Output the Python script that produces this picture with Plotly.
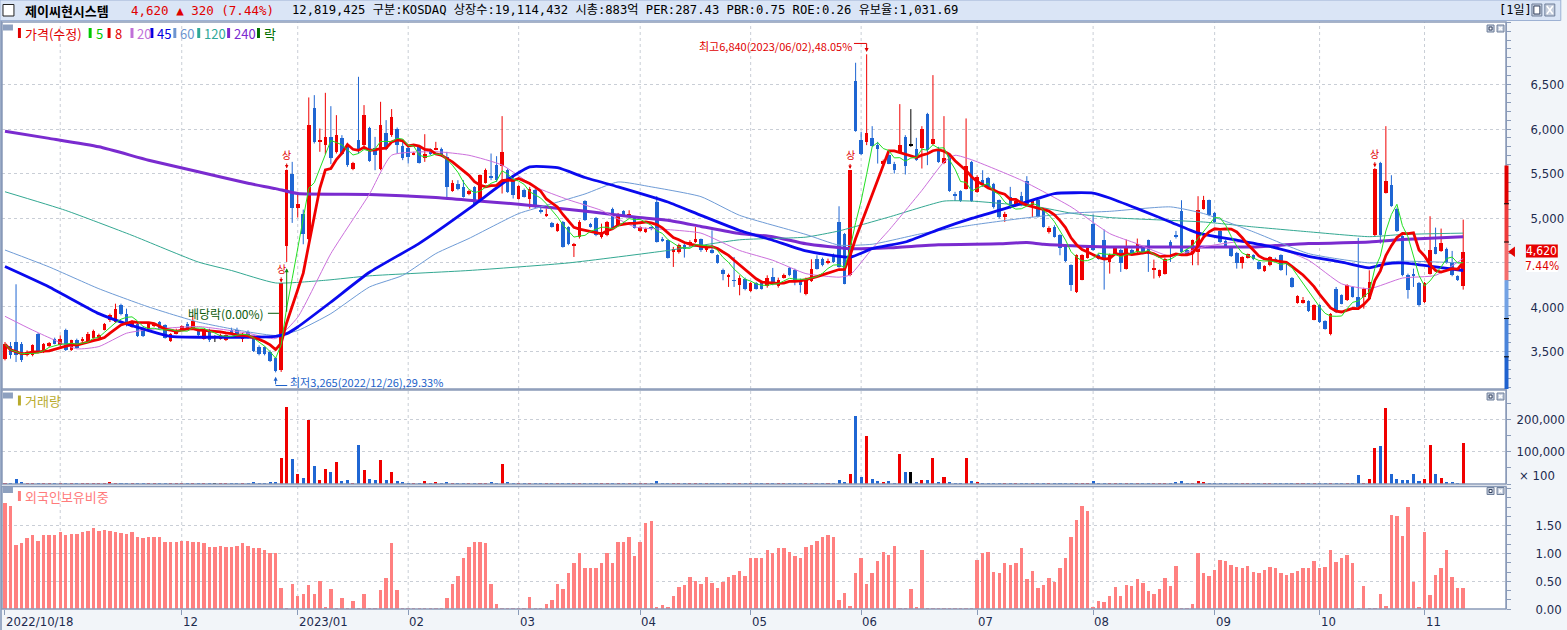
import pandas as pd
import plotly.graph_objects as go

# trading days (KRX holidays removed)
holidays = ["2022-12-30", "2023-01-23", "2023-01-24", "2023-03-01", "2023-05-01",
            "2023-05-05", "2023-05-29", "2023-06-06", "2023-08-15", "2023-09-28",
            "2023-09-29", "2023-10-02", "2023-10-03", "2023-10-09"]
dates = pd.bdate_range("2022-10-18", "2023-11-10", freq="C",
                       holidays=holidays).strftime("%Y-%m-%d").tolist()

tick_dates = ["2022-10-18", "2022-12-01", "2023-01-02", "2023-02-01", "2023-03-02",
              "2023-04-03", "2023-05-02", "2023-06-01", "2023-07-03", "2023-08-01",
              "2023-09-01", "2023-10-04", "2023-11-01"]
tick_labels = ["2022/10/18", "12", "2023/01", "02", "03", "04", "05", "06", "07",
               "08", "09", "10", "11"]
grid_dates = ["2022-11-01"] + tick_dates[1:]

# price labels shown on the axis; 4,500 sits under the current-price tag
price_ticks = [3500, 4000, 5000, 5500, 6000, 6500]
price_grid = [3500, 4000, 4500, 5000, 5500, 6000, 6500]

opens = [
    3419, 3557, 3606, 3587, 3464, 3456, 3692, 3494, 3557, 3644,
    3569, 3745, 3512, 3625, 3614, 3614, 3655, 3651, 3745, 3850,
    3831, 4026, 3925, 3775, 3812, 3767, 3726, 3782, 3831, 3794,
    3617, 3700, 3737, 3812, 3767, 3737, 3644, 3745, 3655, 3644,
    3625, 3745, 3745, 3644, 3719, 3651, 3550, 3550, 3494, 3426,
    3290, 4683, 5500, 5117, 5050, 4769, 6231, 5856, 5819, 5912,
    5744, 5901, 5800, 5556, 5882, 5819, 6017, 5792, 5556, 5950,
    5931, 6006, 5807, 5792, 5717, 5800, 5669, 5770, 5770, 5781,
    5687, 5305, 5380, 5350, 5267, 5350, 5200, 5395, 5470, 5594,
    5582, 5545, 5444, 5219, 5312, 5219, 5312, 5095, 5024, 4945,
    4855, 4956, 4900, 4694, 4787, 5192, 4937, 5001, 4787, 4806,
    5106, 4919, 5076, 5024, 5012, 4855, 4844, 4900, 5181, 4765,
    4750, 4619, 4619, 4694, 4694, 4731, 4761, 4637, 4637, 4581,
    4412, 4337, 4300, 4244, 4319, 4180, 4270, 4281, 4232, 4337,
    4232, 4330, 4439, 4412, 4300, 4150, 4292, 4536, 4536, 4495,
    4581, 4956, 4825, 4356, 6539, 5875, 5856, 5901, 5819, 5612,
    5706, 5612, 5744, 5905, 5819, 5781, 5792, 6167, 5830, 5781,
    5620, 5706, 5267, 5301, 5331, 5631, 5294, 5432, 5451, 5380,
    5200, 5012, 5237, 5144, 5249, 5414, 5144, 5207, 5087, 4844,
    4900, 4806, 4694, 4469, 4169, 4307, 4555, 4930, 4589, 4750,
    4506, 4592, 4645, 4431, 4645, 4619, 4667, 4750, 4420, 4345,
    4375, 4731, 4806, 5080, 4645, 4600, 4619, 5106, 5200, 5057,
    4851, 4742, 4675, 4611, 4495, 4555, 4581, 4506, 4405, 4469,
    4544, 4581, 4495, 4330, 4045, 4045, 4067, 3857, 4019, 3839,
    3700, 4206, 4131, 4075, 4225, 4112, 4112, 4094, 4806, 5620,
    5282, 5369, 5106, 4795, 4364, 4364, 4270, 4056, 4375, 4675,
    4630, 4656, 4506, 4345, 4232,
]
highs = [
    3606, 3606, 4255, 3606, 3512, 3580, 3707, 3595, 3606, 3655,
    3681, 3756, 3632, 3644, 3662, 3719, 3745, 3700, 3820, 3925,
    4037, 4037, 3981, 3850, 3831, 3782, 3820, 3820, 3842, 3805,
    3707, 3756, 3794, 3831, 3906, 3756, 3745, 3756, 3681, 3700,
    3692, 3767, 3767, 3707, 3737, 3662, 3569, 3557, 3512, 3437,
    4265, 5545, 5631, 5294, 5095, 6355, 6381, 6006, 6407, 6257,
    6156, 5931, 5845, 5631, 6587, 6269, 6025, 5912, 6306, 6100,
    6224, 6017, 5882, 5800, 5744, 5807, 5942, 5781, 5856, 5792,
    5744, 5425, 5425, 5425, 5320, 5357, 5489, 5556, 5725, 5695,
    6145, 5556, 5481, 5369, 5331, 5350, 5331, 5125, 5106, 4956,
    4945, 4967, 4907, 4720, 4975, 5200, 4945, 5012, 4937, 4967,
    5117, 5057, 5087, 5087, 5020, 4907, 4892, 4907, 5245, 4787,
    4757, 4675, 4712, 4712, 4750, 4900, 4769, 4694, 4862, 4592,
    4431, 4375, 4562, 4356, 4330, 4281, 4281, 4292, 4356, 4439,
    4330, 4375, 4450, 4431, 4319, 4330, 4536, 4581, 4555, 4544,
    4600, 5132, 4832, 5540, 6745, 5969, 6840, 6032, 5856, 5657,
    5744, 5631, 6280, 5931, 6224, 5901, 6032, 6182, 6606, 5800,
    6145, 5717, 5294, 5312, 6119, 5642, 5481, 5537, 5462, 5395,
    5207, 5069, 5350, 5200, 5294, 5470, 5207, 5219, 5095, 4907,
    4919, 4817, 4705, 4480, 4592, 4592, 4694, 5039, 4600, 4870,
    4600, 4682, 4656, 4757, 4656, 4769, 4682, 4757, 4532, 4420,
    4555, 4750, 4855, 5200, 4656, 4757, 5245, 5249, 5207, 5069,
    4862, 4757, 4686, 4619, 4570, 4600, 4592, 4517, 4469, 4570,
    4555, 4592, 4506, 4337, 4131, 4112, 4075, 4030, 4030, 3850,
    3932, 4225, 4142, 4255, 4232, 4776, 4217, 4412, 5560, 5631,
    6032, 5481, 5117, 4806, 4375, 4431, 4281, 4281, 5020, 4892,
    4881, 4667, 4630, 4356, 4982,
]
lows = [
    3400, 3419, 3381, 3381, 3445, 3445, 3482, 3482, 3550, 3580,
    3557, 3505, 3505, 3531, 3606, 3606, 3644, 3644, 3737, 3831,
    3820, 3906, 3782, 3767, 3662, 3662, 3719, 3775, 3745, 3644,
    3606, 3692, 3730, 3756, 3756, 3670, 3632, 3606, 3606, 3632,
    3617, 3692, 3681, 3606, 3644, 3494, 3456, 3456, 3381, 3265,
    3270, 4506, 4945, 5005, 4705, 4750, 5837, 5744, 5717, 5605,
    5725, 5706, 5575, 5537, 5725, 5800, 5631, 5537, 5537, 5762,
    5912, 5725, 5650, 5612, 5706, 5612, 5631, 5706, 5762, 5687,
    5207, 5294, 5312, 5230, 5256, 5151, 5181, 5387, 5425, 5406,
    5275, 5282, 5219, 5207, 5230, 5106, 5106, 5050, 5012, 4892,
    4844, 4667, 4694, 4562, 4769, 4967, 4892, 4795, 4769, 4795,
    4870, 4907, 5020, 5012, 4881, 4844, 4832, 4862, 4724, 4731,
    4544, 4450, 4600, 4555, 4675, 4720, 4619, 4619, 4600, 4487,
    4300, 4225, 4225, 4131, 4187, 4169, 4195, 4195, 4217, 4244,
    4217, 4319, 4345, 4244, 4161, 4131, 4281, 4420, 4457, 4480,
    4495, 4442, 4255, 4345, 5969, 5706, 5819, 5800, 5612, 5594,
    5605, 5500, 5725, 5489, 5800, 5642, 5556, 5594, 5819, 5620,
    5605, 5294, 5192, 5181, 5320, 5181, 5282, 5350, 5331, 5106,
    4994, 4956, 5106, 5125, 5132, 5155, 5012, 5005, 4892, 4825,
    4780, 4581, 4506, 4180, 4157, 4300, 4544, 4630, 4532, 4195,
    4375, 4581, 4394, 4420, 4581, 4607, 4592, 4394, 4319, 4330,
    4364, 4506, 4769, 4607, 4592, 4469, 4469, 5095, 5020, 4945,
    4720, 4667, 4562, 4431, 4431, 4544, 4525, 4420, 4394, 4457,
    4506, 4405, 4356, 4217, 4037, 4037, 3944, 3850, 3820, 3745,
    3681, 3932, 4030, 4067, 4105, 3992, 3981, 4082, 4795, 4712,
    5275, 5125, 4844, 4345, 4094, 4225, 4007, 4045, 4364, 4592,
    4619, 4487, 4345, 4292, 4195,
]
closes = [
    3580, 3456, 3456, 3407, 3494, 3569, 3494, 3580, 3595, 3587,
    3644, 3512, 3625, 3542, 3644, 3700, 3726, 3689, 3812, 3906,
    3981, 3925, 3794, 3839, 3674, 3670, 3812, 3812, 3756, 3655,
    3700, 3737, 3782, 3767, 3839, 3681, 3737, 3625, 3655, 3681,
    3681, 3700, 3700, 3700, 3651, 3505, 3467, 3475, 3392, 3280,
    4265, 5545, 5114, 5155, 4817, 6044, 5856, 5875, 5912, 5669,
    5931, 5725, 5594, 5620, 5755, 6156, 5642, 5706, 6044, 5770,
    6137, 5819, 5669, 5687, 5732, 5620, 5725, 5725, 5792, 5706,
    5350, 5395, 5324, 5237, 5305, 5162, 5481, 5545, 5459, 5425,
    5744, 5294, 5256, 5357, 5237, 5331, 5125, 5069, 5042, 4900,
    4937, 4675, 4705, 4712, 4956, 4975, 4900, 4806, 4844, 4956,
    4881, 5050, 5031, 5050, 4892, 4900, 4881, 4874, 4731, 4750,
    4555, 4656, 4694, 4656, 4731, 4769, 4637, 4667, 4611, 4495,
    4375, 4356, 4292, 4330, 4206, 4270, 4206, 4206, 4330, 4262,
    4307, 4356, 4356, 4281, 4244, 4319, 4431, 4431, 4469, 4517,
    4506, 4450, 4262, 5540, 5980, 5725, 5950, 5807, 5781, 5642,
    5612, 5537, 5819, 5582, 5819, 5650, 5995, 5762, 5886, 5631,
    5676, 5305, 5249, 5189, 5582, 5189, 5462, 5369, 5350, 5125,
    5012, 5050, 5125, 5189, 5144, 5162, 5200, 5012, 4900, 4892,
    4787, 4667, 4517, 4244, 4581, 4581, 4682, 4637, 4544, 4525,
    4581, 4667, 4495, 4667, 4600, 4705, 4607, 4600, 4442, 4412,
    4544, 4682, 4787, 4619, 4600, 4750, 5087, 5200, 5031, 4956,
    4731, 4675, 4570, 4495, 4562, 4592, 4536, 4431, 4461, 4562,
    4525, 4412, 4487, 4225, 4120, 4082, 3955, 4019, 3831, 3756,
    3925, 3944, 4037, 4244, 4112, 4000, 4206, 4281, 5556, 4814,
    5414, 5132, 4855, 4356, 4187, 4352, 4019, 4270, 4637, 4600,
    4720, 4495, 4356, 4300, 4620,
]
# volume, in units of 100 shares
volume = [
    3000, 2800, 16700, 3400, 2900, 3100, 2800, 3000, 2900, 3100,
    2800, 3000, 3100, 2900, 3000, 2800, 3100, 2900, 3000, 3200,
    3100, 2900, 3000, 2800, 3100, 2900, 3000, 3100, 2800, 3000,
    2900, 3100, 3000, 2800, 3000, 3100, 2900, 3000, 2800, 3100,
    2900, 3000, 3100, 2900, 3000, 3200, 3100, 3000, 3300, 3400,
    81800, 239300, 76500, 31400, 18800, 199400, 56600, 12500, 47100, 37700,
    69200, 9300, 12500, 3000, 122700, 44000, 15600, 12500, 75500, 12500,
    37700, 9300, 6200, 3000, 3100, 2900, 9300, 3000, 6200, 3100,
    6200, 3000, 2900, 3100, 3000, 2900, 3100, 3000, 6200, 3000,
    62900, 6200, 3100, 2900, 3000, 3100, 2800, 3000, 2900, 3100,
    3000, 2900, 3100, 3000, 2800, 3100, 2900, 3000, 3100, 2900,
    3000, 2800, 3100, 2900, 3000, 3100, 2900, 3000, 9300, 3100,
    2900, 3000, 3100, 2800, 3000, 2900, 3100, 3000, 2900, 3100,
    3000, 2800, 3100, 2900, 3000, 3100, 2900, 3000, 2800, 3100,
    2900, 3000, 3100, 2900, 3000, 3100, 2800, 3000, 2900, 3100,
    3000, 12500, 6200, 31400, 210900, 21900, 148000, 15600, 9300, 6200,
    9300, 3000, 94400, 37700, 37700, 6200, 12500, 12500, 81800, 6200,
    21900, 6200, 3000, 3000, 81800, 9300, 6200, 3100, 2900, 3000,
    3100, 2800, 3000, 2900, 3100, 3000, 2900, 3100, 3000, 2800,
    3100, 2900, 3000, 3100, 2900, 3000, 3100, 9300, 2900, 3000,
    3100, 2800, 3000, 2900, 3100, 3000, 2900, 3100, 3000, 2800,
    3100, 3000, 6200, 9300, 3000, 3000, 9300, 6200, 3100, 2900,
    3000, 3100, 2800, 3000, 2900, 3100, 3000, 2900, 3100, 3000,
    2800, 3100, 2900, 3000, 3100, 2900, 3000, 3100, 2800, 3000,
    2900, 3100, 3000, 2900, 3100, 27200, 3000, 15600, 113300, 119600,
    236200, 31400, 15600, 12500, 12500, 31400, 9300, 15600, 122700, 31400,
    18800, 6200, 6200, 3000, 125900,
]
# foreign ownership ratio (%)
foreign = [
    1.91, 1.86, 1.16, 1.19, 1.28, 1.35, 1.24, 1.34, 1.34, 1.34,
    1.40, 1.34, 1.36, 1.36, 1.39, 1.42, 1.46, 1.42, 1.44, 1.42,
    1.40, 1.37, 1.36, 1.39, 1.30, 1.28, 1.30, 1.31, 1.30, 1.22,
    1.22, 1.22, 1.24, 1.24, 1.22, 1.21, 1.19, 1.12, 1.13, 1.15,
    1.13, 1.13, 1.15, 1.19, 1.15, 1.10, 1.10, 1.08, 1.02, 1.02,
    0.39, 0.01, 0.46, 0.25, 0.28, 0.45, 0.28, 0.52, 0.05, 0.37,
    0.01, 0.21, 0.01, 0.16, 0.01, 0.28, 0.01, 0.01, 0.36, 0.57,
    1.19, 0.36, 0.01, 0.01, 0.03, 0.01, 0.01, 0.01, 0.01, 0.01,
    0.21, 0.46, 0.61, 0.92, 1.13, 1.22, 1.22, 1.19, 0.46, 0.10,
    0.01, 0.01, 0.01, 0.01, 0.01, 0.23, 0.01, 0.03, 0.10, 0.18,
    0.46, 0.37, 0.65, 0.83, 1.01, 0.74, 0.75, 0.74, 0.83, 1.02,
    0.83, 1.21, 1.21, 1.30, 0.97, 1.21, 1.55, 1.60, 0.05, 0.08,
    0.05, 0.25, 0.41, 0.45, 0.59, 0.52, 0.46, 0.59, 0.48, 0.39,
    0.50, 0.59, 0.63, 0.70, 0.61, 0.92, 0.93, 0.92, 1.08, 1.02,
    1.10, 1.11, 1.04, 0.97, 0.93, 1.13, 1.17, 1.24, 1.31, 1.35,
    1.30, 0.18, 0.30, 0.07, 0.66, 0.93, 0.46, 0.65, 0.88, 1.04,
    0.99, 1.15, 0.01, 0.01, 0.37, 0.05, 1.08, 0.01, 0.01, 0.01,
    0.01, 0.01, 0.01, 0.01, 0.01, 0.01, 0.90, 1.01, 1.04, 0.68,
    0.66, 0.84, 0.81, 0.84, 1.11, 0.55, 0.70, 0.39, 0.45, 0.57,
    0.50, 0.74, 0.93, 1.31, 1.62, 1.87, 1.77, 0.05, 0.16, 0.14,
    0.25, 0.41, 0.25, 0.45, 0.43, 0.55, 0.48, 0.34, 0.28, 0.37,
    0.57, 0.43, 0.79, 0.01, 0.01, 0.10, 1.02, 0.65, 0.61, 0.72,
    0.90, 0.88, 0.81, 0.77, 0.75, 0.79, 0.68, 0.66, 0.72, 0.77,
    0.74, 0.66, 0.63, 0.66, 0.70, 0.75, 0.75, 0.88, 0.74, 0.77,
    1.08, 0.86, 0.92, 0.99, 0.84, 0.01, 0.43, 0.01, 0.01, 0.28,
    0.07, 1.71, 1.68, 1.33, 1.84, 0.50, 0.05, 1.40, 0.27, 0.63,
    0.75, 1.08, 0.59, 0.39, 0.39,
]

# longer moving averages (bar index, value)
ma20_at = [0, 5, 13, 17, 22, 26, 35, 44, 49, 53, 59, 66, 70, 78, 84, 90, 96, 102, 108,
           114, 120, 126, 133, 139, 145, 151, 153, 157, 160, 166, 170, 172, 175, 184,
           193, 200, 205, 211, 217, 223, 229, 236, 242, 247, 253, 259, 264]
ma20 = [3895, 3740, 3530, 3555, 3705, 3745, 3780, 3705, 3645, 3885, 4600, 5270, 5705,
        5745, 5705, 5595, 5350, 5205, 5085, 4900, 4870, 4830, 4635, 4525, 4375, 4335,
        4360, 4655, 4860, 5310, 5630, 5705, 5655, 5425, 5125, 4825, 4710, 4570, 4675,
        4730, 4695, 4525, 4260, 4205, 4325, 4355, 4545]
ma45_at = [0, 8, 17, 22, 26, 30, 49, 51, 53, 59, 66, 75, 84, 91, 95, 100, 105, 111, 120,
           126, 133, 139, 145, 153, 157, 163, 169, 175, 181, 187, 190, 197, 200, 205,
           211, 216, 223, 229, 236, 242, 247, 250, 253, 259, 264]
ma45 = [4455, 4225, 3925, 3810, 3735, 3670, 3670, 3700, 3775, 4055, 4390, 4715, 5105,
        5430, 5575, 5565, 5455, 5350, 5180, 5030, 4860, 4750, 4630, 4560, 4655, 4730,
        4870, 4995, 5105, 5220, 5275, 5280, 5225, 5105, 4955, 4830, 4750, 4680, 4570,
        4505, 4440, 4485, 4495, 4450, 4410]
ma60_at = [0, 8, 17, 26, 35, 44, 49, 53, 59, 66, 72, 78, 84, 93, 99, 105, 111, 117, 126,
           133, 145, 151, 157, 166, 175, 184, 193, 200, 211, 217, 226, 236, 247, 253, 264]
ma60 = [4640, 4450, 4205, 4000, 3830, 3720, 3680, 3735, 3925, 4225, 4355, 4600, 4770,
        5050, 5160, 5270, 5405, 5350, 5240, 5030, 4815, 4695, 4705, 4825, 4920, 4995,
        5055, 5075, 5125, 5050, 4845, 4600, 4495, 4515, 4495]
ma120_at = [0, 11, 23, 35, 41, 49, 58, 66, 84, 102, 120, 133, 145, 151, 160, 170, 175,
            181, 187, 193, 200, 217, 226, 236, 247, 253, 264]
ma120 = [5295, 5085, 4805, 4505, 4410, 4270, 4300, 4350, 4410, 4495, 4635, 4755, 4785,
         4855, 5010, 5190, 5190, 5160, 5125, 5055, 5005, 4955, 4900, 4845, 4790, 4815, 4830]
ma240_at = [0, 8, 17, 26, 35, 44, 49, 53, 66, 78, 84, 93, 100, 106, 114, 120, 126, 133,
            139, 145, 153, 160, 169, 180, 185, 188, 200, 217, 226, 230, 236, 247, 253,
            259, 264]
ma240 = [5975, 5895, 5800, 5650, 5520, 5390, 5330, 5275, 5265, 5230, 5200, 5155, 5110,
         5070, 5010, 4975, 4905, 4825, 4790, 4710, 4655, 4665, 4700, 4710, 4725, 4705,
         4675, 4675, 4675, 4690, 4712, 4730, 4757, 4776, 4788]

limit_up_at = [50, 51, 153, 248]
prev_close = 4300
limit_levels = [5590, 5160, 4730, 4300, 3870, 3440, 3010]

# page geometry
W, H = 1567, 630
ML, MR, MT, MB = 2, 55, 22, 21
PW, PH = W - ML - MR, H - MT - MB


def px(x):
    return (x - ML) / PW


def py(y):
    return (H - MB - y) / PH


RED, BLUE, BLACK = "#f00000", "#1f66d3", "#000000"
AX = "#8a9bb8"
GRID = "#c9ced6"
LBL = "#1d2b4f"
NUM = "Liberation Sans Narrow, DejaVu Sans Condensed, Liberation Sans, sans-serif"
KR = "Noto Sans CJK KR, sans-serif"
MONO = "DejaVu Sans Mono, Noto Sans CJK KR, monospace"
PRICE_RANGE = [3078, 7203]


def candle_color(o, c):
    if c > o:
        return RED
    if c < o:
        return BLUE
    return BLACK


colors = [candle_color(o, c) for o, c in zip(opens, closes)]
ma5 = pd.Series(closes).rolling(5, min_periods=1).mean().tolist()
ma8 = pd.Series(closes).rolling(8, min_periods=1).mean().tolist()

fig = go.Figure()

# candles: wicks then bodies
for col in (RED, BLUE, BLACK):
    wx, wy = [], []
    for d, hi, lo, cc in zip(dates, highs, lows, colors):
        if cc == col:
            wx += [d, d, None]
            wy += [lo, hi, None]
    fig.add_trace(go.Scatter(x=wx, y=wy, mode="lines", line=dict(color=col, width=1),
                             hoverinfo="skip", xaxis="x", yaxis="y"))

fig.add_trace(go.Bar(
    x=dates,
    y=[max(abs(c - o), 8) for o, c in zip(opens, closes)],
    base=[min(o, c) for o, c in zip(opens, closes)],
    marker=dict(color=colors, line=dict(width=0)),
    width=0.64, xaxis="x", yaxis="y", hoverinfo="skip",
))


def ma_line(at, vals, color, width):
    return go.Scatter(x=[dates[i] for i in at], y=vals, mode="lines",
                      line=dict(color=color, width=width, shape="spline", smoothing=0.5),
                      hoverinfo="skip", xaxis="x", yaxis="y")


fig.add_trace(ma_line(ma240_at, ma240, "#7a2bcf", 3))
fig.add_trace(ma_line(ma120_at, ma120, "#33a892", 1))
fig.add_trace(ma_line(ma60_at, ma60, "#6e9bd6", 1))
fig.add_trace(ma_line(ma20_at, ma20, "#cc70dc", 1))
fig.add_trace(ma_line(ma45_at, ma45, "#0a0aee", 2.8))
fig.add_trace(go.Scatter(x=dates, y=ma8, mode="lines", line=dict(color="#f00000", width=2.8),
                         hoverinfo="skip", xaxis="x", yaxis="y"))
fig.add_trace(go.Scatter(x=dates, y=ma5, mode="lines", line=dict(color="#22e022", width=1),
                         hoverinfo="skip", xaxis="x", yaxis="y"))

# volume and foreign ownership
fig.add_trace(go.Bar(x=dates, y=volume, marker=dict(color=colors, line=dict(width=0)),
                     width=0.55, xaxis="x2", yaxis="y2", hoverinfo="skip"))
fig.add_trace(go.Bar(x=dates, y=foreign, marker=dict(color="#ff8080", line=dict(width=0)),
                     width=0.62, xaxis="x3", yaxis="y3", hoverinfo="skip"))

xcommon = dict(type="category", categoryorder="array", categoryarray=dates,
               range=[-0.541, 271.75], showgrid=False, zeroline=False, showline=False,
               showticklabels=False, fixedrange=True)
ycommon = dict(side="right", zeroline=False, showline=True, linecolor=AX, linewidth=1,
               showgrid=True, gridcolor=GRID, griddash="dot", gridwidth=1,
               ticks="outside", ticklen=4, tickcolor=AX, fixedrange=True,
               tickfont=dict(family=NUM, size=13, color=LBL))

fig.update_layout(
    width=W, height=H,
    margin=dict(l=ML, r=MR, t=MT, b=MB, pad=0),
    paper_bgcolor="#f2f5f9", plot_bgcolor="#ffffff",
    showlegend=False, barmode="overlay", bargap=0,
    xaxis=dict(xcommon, anchor="y"),
    xaxis2=dict(xcommon, anchor="y2", matches="x"),
    xaxis3=dict(xcommon, anchor="y3", matches="x", ticks="outside", tickvals=tick_dates,
                ticklen=5, tickcolor=AX),
    yaxis=dict(ycommon, domain=[py(389), 1], range=PRICE_RANGE, anchor="x",
               tickvals=price_ticks, tickformat=",d", ticklabelstandoff=17,
               minor=dict(tickmode="linear", tick0=0, dtick=100, ticks="outside",
                          ticklen=4, tickcolor=AX, showgrid=False)),
    yaxis2=dict(ycommon, domain=[py(484), py(390)], range=[0, 292000], anchor="x2",
                tickvals=[100000, 200000], tickformat=",d", ticklabelstandoff=3,
                minor=dict(tickmode="linear", tick0=0, dtick=50000, ticks="outside",
                           ticklen=4, tickcolor=AX, showgrid=False)),
    yaxis3=dict(ycommon, domain=[0, py(486.5)], range=[0, 2.207], anchor="x3",
                tickvals=[0, 0.5, 1.0, 1.5], tickformat=".2f", ticklabelstandoff=22,
                minor=dict(tickmode="linear", tick0=0, dtick=0.5 / 3, ticks="outside",
                           ticklen=4, tickcolor=AX, showgrid=False)),
)

shapes = []
annotations = []

# month grid lines in each panel
for xr, yr in (("x", "y domain"), ("x2", "y2 domain"), ("x3", "y3 domain")):
    for d in grid_dates:
        shapes.append(dict(type="line", xref=xr, yref=yr, x0=d, x1=d, y0=0, y1=1,
                           line=dict(color=GRID, width=1, dash="dot"), layer="below"))

# price grid line whose label is hidden by the price tag
for lv in price_grid:
    if lv not in price_ticks:
        shapes.append(dict(type="line", xref="x domain", yref="y", x0=0, x1=1, y0=lv,
                           y1=lv, line=dict(color=GRID, width=1, dash="dot"),
                           layer="below"))
        shapes.append(dict(type="line", xref="paper", yref="y", x0=1, x1=px(1516),
                           y0=lv, y1=lv, line=dict(color=AX, width=1)))

# panel frames
for top, bot in ((22, 389), (390, 484), (486.5, 609)):
    shapes.append(dict(type="rect", xref="paper", yref="paper", x0=0, x1=1,
                       y0=py(bot), y1=py(top), line=dict(color=AX, width=1.5)))
shapes.append(dict(type="line", xref="paper", yref="paper", x0=px(1), x1=px(1),
                   y0=py(630), y1=py(20), line=dict(color="#7f93b5", width=1.5)))

# header bar
shapes.append(dict(type="rect", xref="paper", yref="paper", x0=px(0), x1=px(W),
                   y0=py(20.5), y1=py(0), fillcolor="#dae5f6",
                   line=dict(color="#9db1d3", width=1)))
shapes.append(dict(type="rect", xref="paper", yref="paper", x0=px(3), x1=px(14),
                   y0=py(16), y1=py(4.5), fillcolor="#ffffff",
                   line=dict(color="#222222", width=1)))


def button(x, y, w, h, kind):
    shapes.append(dict(type="rect", xref="paper", yref="paper", x0=px(x), x1=px(x + w),
                       y0=py(y + h), y1=py(y), fillcolor="#c4cddc",
                       line=dict(color="#6f7f9a", width=1)))
    if kind == "min":
        shapes.append(dict(type="rect", xref="paper", yref="paper", x0=px(x + 2),
                           x1=px(x + w - 2), y0=py(y + h - 2), y1=py(y + 2),
                           fillcolor="#ffffff", line=dict(color="#33415e", width=1)))
    else:
        for a, b in ((0, 1), (1, 0)):
            shapes.append(dict(type="line", xref="paper", yref="paper",
                               x0=px(x + 2), x1=px(x + w - 2),
                               y0=py(y + 2 + a * (h - 4)), y1=py(y + 2 + b * (h - 4)),
                               line=dict(color="#ffffff", width=1.5)))


button(1538, 4, 10, 12, "min")
button(1551, 4, 10, 12, "close")
for yb in (25, 393, 487.5):
    button(1493, yb, 7, 7, "min")
    button(1503, yb, 7, 7, "close")
    shapes.append(dict(type="rect", xref="paper", yref="paper", x0=px(3), x1=px(13),
                       y0=py(yb + 5.5), y1=py(yb - 0.5), fillcolor="#8da0bf",
                       line=dict(width=0)))

header_items = [
    ("<b>제이씨현시스템</b>", 23, "#000000", KR, 13),
    ("4,620 ▲ 320 (7.44%)", 130, "#e00000", MONO, 12.5),
    ("12,819,425 구분:KOSDAQ 상장수:19,114,432 시총:883억 PER:287.43 PBR:0.75 "
     "ROE:0.26 유보율:1,031.69", 291, "#000000", MONO, 12.2),
    ("[1일]", 1503, "#000000", MONO, 12),
]
for text, x, col, fam, size in header_items:
    annotations.append(dict(text=text, xref="paper", yref="paper", x=px(x), y=py(10.5),
                            xanchor="left", yanchor="middle", showarrow=False,
                            font=dict(family=fam, size=size, color=col)))

# panel legends
legend_items = [
    ("가격(수정)", "#e00000", 18), ("5", "#00c800", 89), ("8", "#e00000", 108),
    ("20", "#c070d8", 131), ("45", "#0000e0", 151), ("60", "#6e96d0", 174),
    ("120", "#2fa898", 198), ("240", "#7a2ad0", 228), ("락", "#007000", 258),
]
for text, col, x in legend_items:
    shapes.append(dict(type="rect", xref="paper", yref="paper", x0=px(x), x1=px(x + 3),
                       y0=py(38), y1=py(28), fillcolor=col, line=dict(width=0)))
    annotations.append(dict(text=text, xref="paper", yref="paper", x=px(x + 5), y=py(33),
                            xanchor="left", yanchor="middle", showarrow=False,
                            font=dict(family="Liberation Sans Narrow, " + KR, size=13,
                                      color=col)))
for text, col, y in (("거래량", "#b8aa2c", 400.5), ("외국인보유비중", "#ff7b7b", 496)):
    shapes.append(dict(type="rect", xref="paper", yref="paper", x0=px(18), x1=px(21),
                       y0=py(y + 5), y1=py(y - 5), fillcolor=col, line=dict(width=0)))
    annotations.append(dict(text=text, xref="paper", yref="paper", x=px(23), y=py(y),
                            xanchor="left", yanchor="middle", showarrow=False,
                            font=dict(family=KR, size=13, color=col)))

annotations.append(dict(text="× 100", xref="paper", yref="paper", x=px(1563), y=py(475),
                        xanchor="right", yanchor="middle", showarrow=False,
                        font=dict(family=NUM, size=13, color=LBL)))

# bottom date labels
for d, lab in zip(tick_dates, tick_labels):
    annotations.append(dict(text=lab, xref="x3", yref="paper", x=d, y=py(621),
                            xanchor="left", yanchor="middle", xshift=-1, showarrow=False,
                            font=dict(family=NUM, size=13, color=LBL)))

# limit-up markers
for i in limit_up_at:
    annotations.append(dict(text="상", x=dates[i], y=highs[i], xref="x", yref="y",
                            showarrow=True, ax=0, ay=-15, arrowhead=2, arrowsize=0.7,
                            arrowwidth=1, arrowcolor="#e00000", standoff=1,
                            font=dict(family=KR, size=10, color="#e00000")))

# high / low / ex-dividend notes
i_hi = highs.index(max(highs))
i_lo = lows.index(min(lows))
annotations.append(dict(text="최고6,840(2023/06/02),48.05%", x=dates[i_hi], y=6935,
                        xref="x", yref="y", xanchor="right", yanchor="middle", xshift=-13,
                        showarrow=False, font=dict(family=KR, size=11, color="#e00000")))
shapes.append(dict(type="line", xref="x", yref="y", x0=i_hi - 2.3, x1=i_hi, y0=6962,
                   y1=6962, line=dict(color="#e00000", width=1)))
annotations.append(dict(text="", x=dates[i_hi], y=highs[i_hi] + 25, xref="x", yref="y",
                        showarrow=True, ax=0, ay=-10, arrowhead=2, arrowsize=0.8,
                        arrowwidth=1, arrowcolor="#e00000"))

annotations.append(dict(text="최저3,265(2022/12/26),29.33%", x=dates[i_lo], y=3160,
                        xref="x", yref="y", xanchor="left", yanchor="middle", xshift=12,
                        showarrow=False, font=dict(family=KR, size=11, color="#1b5fc9")))
shapes.append(dict(type="line", xref="x", yref="y", x0=i_lo, x1=i_lo + 2.1, y0=3117,
                   y1=3117, line=dict(color="#1b5fc9", width=1)))
annotations.append(dict(text="", x=dates[i_lo], y=lows[i_lo] - 50, xref="x", yref="y",
                        showarrow=True, ax=0, ay=9, arrowhead=2, arrowsize=0.8,
                        arrowwidth=1, arrowcolor="#1b5fc9"))

i_div = 51
annotations.append(dict(text="배당락(0.00%)", x=dates[i_div], y=3929, xref="x", yref="y",
                        xanchor="right", yanchor="middle", xshift=-21, showarrow=False,
                        font=dict(family=KR, size=12, color="#0b5a0b")))
shapes.append(dict(type="line", xref="x", yref="y", x0=47.6, x1=49.6, y0=3929, y1=3929,
                   line=dict(color="#0b5a0b", width=1)))
annotations.append(dict(text="", x=dates[i_div], y=4435, xref="x", yref="y",
                        showarrow=True, ax=0, ay=45, arrowhead=2, arrowsize=0.8,
                        arrowwidth=1, arrowcolor="#0b8a0b"))

# daily price-limit bar on the price axis
seg_colors = ["#e00000", "#ee3a3a", "#f36c6c", "#73a2e4", "#4a84da", "#1f62cf"]
for (top, bot), col in zip(zip(limit_levels[:-1], limit_levels[1:]), seg_colors):
    shapes.append(dict(type="rect", xref="paper", yref="y", x0=px(1510.5), x1=px(1514.5),
                       y0=max(bot, PRICE_RANGE[0]), y1=top, fillcolor=col,
                       line=dict(width=0), layer="above"))
for lv in (limit_levels[1], limit_levels[2], limit_levels[4], limit_levels[5]):
    shapes.append(dict(type="line", xref="paper", yref="y", x0=px(1510), x1=px(1515),
                       y0=lv, y1=lv, line=dict(color="#000000", width=1)))

# current price tag
last = closes[-1]
chg = (last - prev_close) / prev_close * 100
shapes.append(dict(type="path", xref="paper", yref="paper",
                   path=f"M {px(1514)},{py(251.8)} L {px(1521)},{py(246.5)} "
                        f"L {px(1521)},{py(257)} Z",
                   fillcolor="#e00000", line=dict(width=0)))
shapes.append(dict(type="rect", xref="paper", yref="paper", x0=px(1532), x1=px(1564),
                   y0=py(257.5), y1=py(244.5), fillcolor="#e60000", line=dict(width=0)))
shapes.append(dict(type="rect", xref="paper", yref="paper", x0=px(1532), x1=px(1564),
                   y0=py(272), y1=py(258.5), fillcolor="#ffffff", line=dict(width=0)))
annotations.append(dict(text=f"{last:,}", xref="paper", yref="paper", x=px(1548),
                        y=py(251), xanchor="center", yanchor="middle", showarrow=False,
                        borderpad=0, font=dict(family=NUM, size=12, color="#ffffff")))
annotations.append(dict(text=f"{chg:.2f}%", xref="paper", yref="paper", x=px(1548),
                        y=py(266), xanchor="center", yanchor="middle", showarrow=False,
                        borderpad=0, font=dict(family=NUM, size=12, color="#e00000")))

fig.update_layout(shapes=shapes, annotations=annotations)
fig.write_html("out.html", config={"displayModeBar": False},
               post_script="document.body.style.margin='0';")
